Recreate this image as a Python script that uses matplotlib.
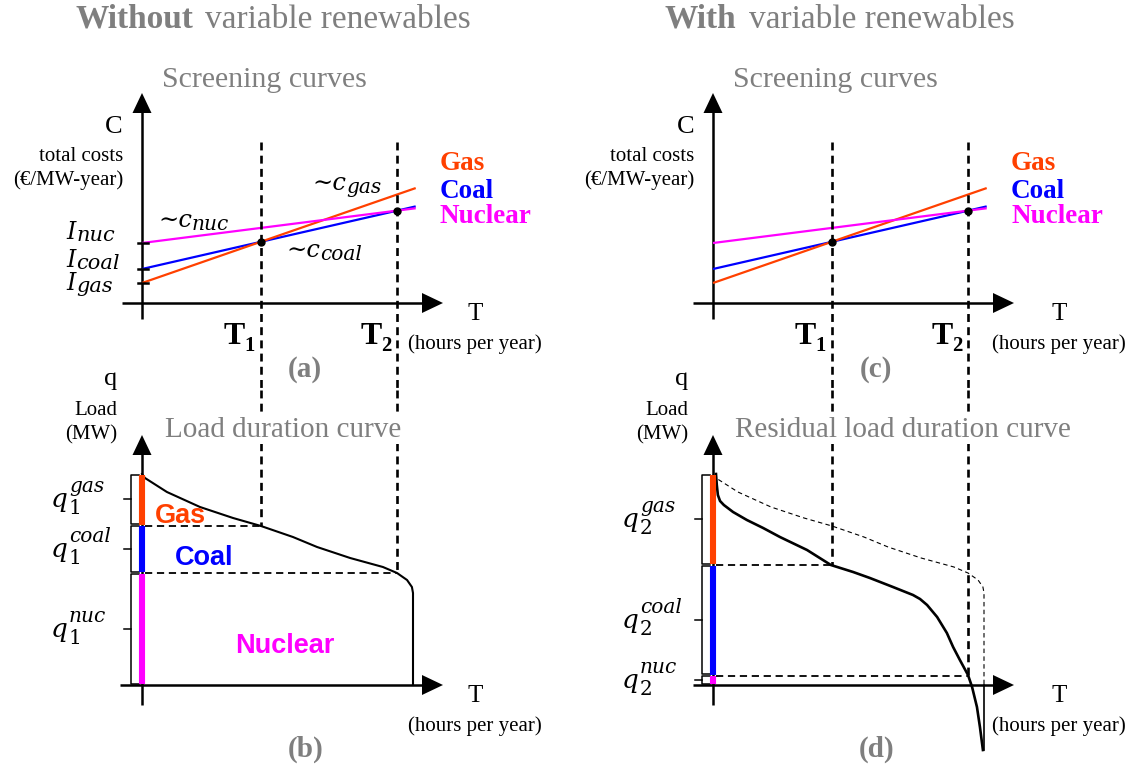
import numpy as np
import matplotlib
matplotlib.use('Agg')
import matplotlib.pyplot as plt
from matplotlib.patches import Polygon

W, H = 1132, 768

techs = ['Gas', 'Coal', 'Nuclear']
short = ['gas', 'coal', 'nuc']
colors = ['#ff4000', '#0000ff', '#ff00ff']

# screening curves: C = I + c*T, T as share of the year
inv_cost = [20, 34, 60]
var_cost = [94, 62, 34.4]
t_end = 1.01

# load duration curve (b), repeated thin dashed in (d)
ldc_t = [0, 0.011, 0.092, 0.214, 0.336, 0.439, 0.557, 0.646, 0.768, 0.889, 0.941, 0.978, 0.996, 1.0, 1.0]
ldc_q = [211, 207, 193, 178, 167, 159, 148, 138, 127, 118, 112, 105, 98, 92, 0]

# residual load duration curve (d)
rldc_t = [0.011, 0.014, 0.018, 0.026, 0.040, 0.074, 0.125, 0.185, 0.247, 0.347, 0.435, 0.517, 0.579,
          0.664, 0.738, 0.764, 0.790, 0.827, 0.863, 0.886, 0.911, 0.941, 0.956, 0.974, 0.985, 0.996]
rldc_q = [211, 200, 190, 184, 180, 173, 165, 157, 148, 135, 120, 113, 107,
          98, 90, 86, 80, 68, 52, 38, 25, 10, -2, -22, -42, -65]

# cut-off durations where the cheapest technology changes
T1 = (inv_cost[1] - inv_cost[0]) / (var_cost[0] - var_cost[1])
T2 = (inv_cost[2] - inv_cost[1]) / (var_cost[1] - var_cost[2])

SX = 271.0
ORIG_X = [142, 713]
OY_TOP, OY_BOT = 303, 685
GRAY = '#7f7f7f'
SERIF = 'Liberation Serif'
MATH = ['DejaVu Serif', 'DejaVu Sans']

fig = plt.figure(figsize=(W / 100, H / 100), dpi=100)
back = fig.add_axes([0, 0, 1, 1], label='back')
back.set_xlim(0, W)
back.set_ylim(H, 0)
back.axis('off')


def panel(left, top, right, bottom, ox, oy):
    ax = fig.add_axes([left / W, 1 - bottom / H, (right - left) / W, (bottom - top) / H])
    ax.set_xlim((left - ox) / SX, (right - ox) / SX)
    ax.set_ylim(oy - bottom, oy - top)
    ax.axis('off')
    return ax


def arrows(ox, oy, y_top, x_left, x_tip, y_bottom):
    back.plot([x_left, x_tip - 19], [oy, oy], 'k', lw=1.8, solid_capstyle='butt')
    back.add_patch(Polygon([[x_tip - 21, oy - 10], [x_tip, oy], [x_tip - 21, oy + 10]], color='k', lw=0))
    back.plot([ox, ox], [y_bottom, y_top + 18], 'k', lw=1.8, solid_capstyle='butt')
    back.add_patch(Polygon([[ox - 9.5, y_top + 20], [ox, y_top], [ox + 9.5, y_top + 20]], color='k', lw=0))


def bracket(ax, top, bottom):
    x0, x1, xt = -11 / SX, -3 / SX, -18 / SX
    ax.plot([x1, x0, x0, x1], [top, top, bottom, bottom], 'k', lw=1.1, clip_on=False)
    mid = (top + bottom) / 2
    ax.plot([x0, xt], [mid, mid], 'k', lw=1.1, clip_on=False)
    return mid


T_DASH = dict(color='k', lw=1.9, dashes=(3.0, 2.0))
H_DASH = dict(color='k', lw=1.3, dashes=(4.0, 2.6))

axes_top, axes_bot = [], []
for col, ox in enumerate(ORIG_X):
    left, right = (0, 566) if col == 0 else (566, W)
    ax_s = panel(left, 40, right, 390, ox, OY_TOP)
    ax_l = panel(left, 390, right, H, ox, OY_BOT)
    axes_top.append(ax_s)
    axes_bot.append(ax_l)
    arrows(ox, OY_TOP, 93, ox - 20, ox + 301, 319)
    arrows(ox, OY_BOT, 435, ox - 22 if col == 0 else ox - 20, ox + 301, 705)

    # screening curves
    for i in [1, 0, 2]:
        ax_s.plot([0, t_end], [inv_cost[i], inv_cost[i] + var_cost[i] * t_end],
                  color=colors[i], lw=1.6, solid_capstyle='butt')
    if col == 0:
        for I in inv_cost:
            ax_s.plot(np.array([-4, 6]) / SX, [I, I], 'k', lw=1.8)
    cross = [inv_cost[0] + var_cost[0] * T1, inv_cost[1] + var_cost[1] * T2]
    ax_s.plot([T1, T2], cross, 'o', color='k', ms=5, zorder=5)
    ylo = ax_s.get_ylim()[0]
    for T in (T1, T2):
        ax_s.plot([T, T], [OY_TOP - 142, ylo], **T_DASH)

    # load duration curves
    if col == 0:
        curve_t, curve_q = ldc_t, ldc_q
        ax_l.plot(ldc_t, ldc_q, 'k', lw=1.5)
    else:
        curve_t, curve_q = rldc_t, rldc_q
        ax_l.plot(ldc_t, ldc_q, 'k', lw=0.8, dashes=(4, 3))
        ax_l.plot(rldc_t, rldc_q, 'k', lw=1.9)
        ax_l.plot([1, 1], [rldc_q[-1], 0], 'k', lw=1.2)
    levels = [curve_q[0], np.interp(T1, curve_t, curve_q), np.interp(T2, curve_t, curve_q), 0]
    qtop = ax_l.get_ylim()[1]
    ax_l.plot([T1, T1], [qtop, levels[1]], **T_DASH)
    ax_l.plot([T2, T2], [qtop, levels[2]], **T_DASH)
    ax_l.plot([3 / SX, T1], [levels[1]] * 2, **H_DASH)
    ax_l.plot([3 / SX, T2], [levels[2]] * 2, **H_DASH)
    mids = []
    for i in range(3):
        ax_l.plot([0, 0], [levels[i] - 0.5, levels[i + 1] + 1.0], color=colors[i], lw=4.4,
                  solid_capstyle='butt', zorder=4)
        mids.append(bracket(ax_l, levels[i] - 0.5, levels[i + 1] + 1.5))
    axes_bot[col].mids = mids

front = fig.add_axes([0, 0, 1, 1], label='front')
front.set_xlim(0, W)
front.set_ylim(H, 0)
front.axis('off')
renderer = fig.canvas.get_renderer()


def to_front(ax, x, y):
    return front.transData.inverted().transform(ax.transData.transform((x, y)))


def composite(x, y, base, size, sub=None, sub_size=15, sub_dy=6, sup=None, sup_dy=-15,
              family=MATH, style='italic', weight='normal', sub_style='italic', color='k', gap=0):
    t = front.text(x, y, base, fontsize=size, family=family, style=style, weight=weight,
                   color=color, ha='left', va='baseline')
    x2 = x + t.get_window_extent(renderer).width + gap
    if sub:
        front.text(x2, y + sub_dy, sub, fontsize=sub_size, family=family, style=sub_style,
                   weight=weight, color=color, ha='left', va='baseline')
    if sup:
        front.text(x2, y + sup_dy, sup, fontsize=sub_size, family=family, style='italic',
                   weight=weight, color=color, ha='left', va='baseline')


# column titles
front.text(193, 28, 'Without', fontsize=24, family=SERIF, weight='bold', color=GRAY, ha='right', va='baseline')
front.text(205, 28, 'variable renewables', fontsize=24, family=SERIF, color=GRAY, ha='left', va='baseline')
front.text(736, 28, 'With', fontsize=24, family=SERIF, weight='bold', color=GRAY, ha='right', va='baseline')
front.text(749, 28, 'variable renewables', fontsize=24, family=SERIF, color=GRAY, ha='left', va='baseline')

panel_names = [('(a)', '(b)', 'Load duration curve', 283),
               ('(c)', '(d)', 'Residual load duration curve', 903 - 571)]
for col, dx in enumerate([0, 571]):
    dr = 0 if col == 0 else 584
    tag_top, tag_bot, ldc_title, ldc_x = panel_names[col]
    front.text(264 + dx, 87, 'Screening curves', fontsize=21.5, family=SERIF, color=GRAY,
               ha='center', va='baseline')
    front.text(123 + dx, 133, 'C', fontsize=19, family=SERIF, ha='right', va='baseline')
    front.text(123 + dx, 161, 'total costs', fontsize=15, family=SERIF, ha='right', va='baseline')
    front.text(123 + dx, 185, '(€/MW-year)', fontsize=15, family=SERIF, ha='right', va='baseline')
    for i, yb in enumerate([170, 198, 223]):
        front.text(440 + dx, yb, techs[i], fontsize=19.5, family=SERIF, weight='bold',
                   color=colors[i], ha='left', va='baseline')
    for yb, yh in [(320, 349), (702, 731)]:
        front.text(467 + dr, yb, 'T', fontsize=18, family=SERIF, ha='left', va='baseline')
        front.text(475 + dr, yh, '(hours per year)', fontsize=15, family=SERIF, ha='center', va='baseline')
    for T, name in [(T1, '1'), (T2, '2')]:
        xt = to_front(axes_top[col], T, 0)[0]
        composite(xt - 37, 344, 'T', 23, sub=name, sub_size=15, sub_dy=7, family=SERIF,
                  style='normal', sub_style='normal', weight='bold')
    front.text(305 + dx, 377, tag_top, fontsize=21, family=SERIF, weight='bold', color=GRAY,
               ha='center', va='baseline')
    front.text(306 + dx, 757, tag_bot, fontsize=21, family=SERIF, weight='bold', color=GRAY,
               ha='center', va='baseline')
    front.text(117 + dx, 385, 'q', fontsize=19, family=SERIF, ha='right', va='baseline')
    front.text(117 + dx, 415, 'Load', fontsize=15, family=SERIF, ha='right', va='baseline')
    front.text(117 + dx, 439, '(MW)', fontsize=15, family=SERIF, ha='right', va='baseline')
    front.text(ldc_x + dx, 437, ldc_title, fontsize=21, family=SERIF, color=GRAY, ha='center',
               va='baseline', bbox=dict(facecolor='white', edgecolor='none', pad=1))
    # capacity labels q_1 / q_2
    for i, mid in enumerate(axes_bot[col].mids):
        yq = to_front(axes_bot[col], 0, mid)[1]
        composite(51 + dx, yq + 8, 'q', 19, sub=str(col + 1), sub_size=14.5, sub_dy=7,
                  sup=short[i], sup_dy=-15, sub_style='normal', gap=1)

# investment cost and variable cost labels on (a)
for i, yb in zip([2, 1, 0], [239, 267, 290]):
    composite(66, yb, 'I', 17, sub=short[i], sub_size=15, sub_dy=2, gap=1)
composite(158, 227, '∼c', 17.5, sub='nuc', sub_size=14.5, sub_dy=3)
composite(286, 257, '∼c', 17.5, sub='coal', sub_size=14.5, sub_dy=3)
composite(312, 190, '∼c', 17.5, sub='gas', sub_size=14.5, sub_dy=3)

# technology names inside the load duration curve (b)
for name, x, yb, c in [('Gas', 180, 523, colors[0]), ('Coal', 204, 565, colors[1]),
                       ('Nuclear', 285, 653, colors[2])]:
    front.text(x, yb, name, fontsize=19.5, family='Liberation Sans', weight='bold', color=c,
               ha='center', va='baseline')

fig.savefig('out.png', dpi=100)
